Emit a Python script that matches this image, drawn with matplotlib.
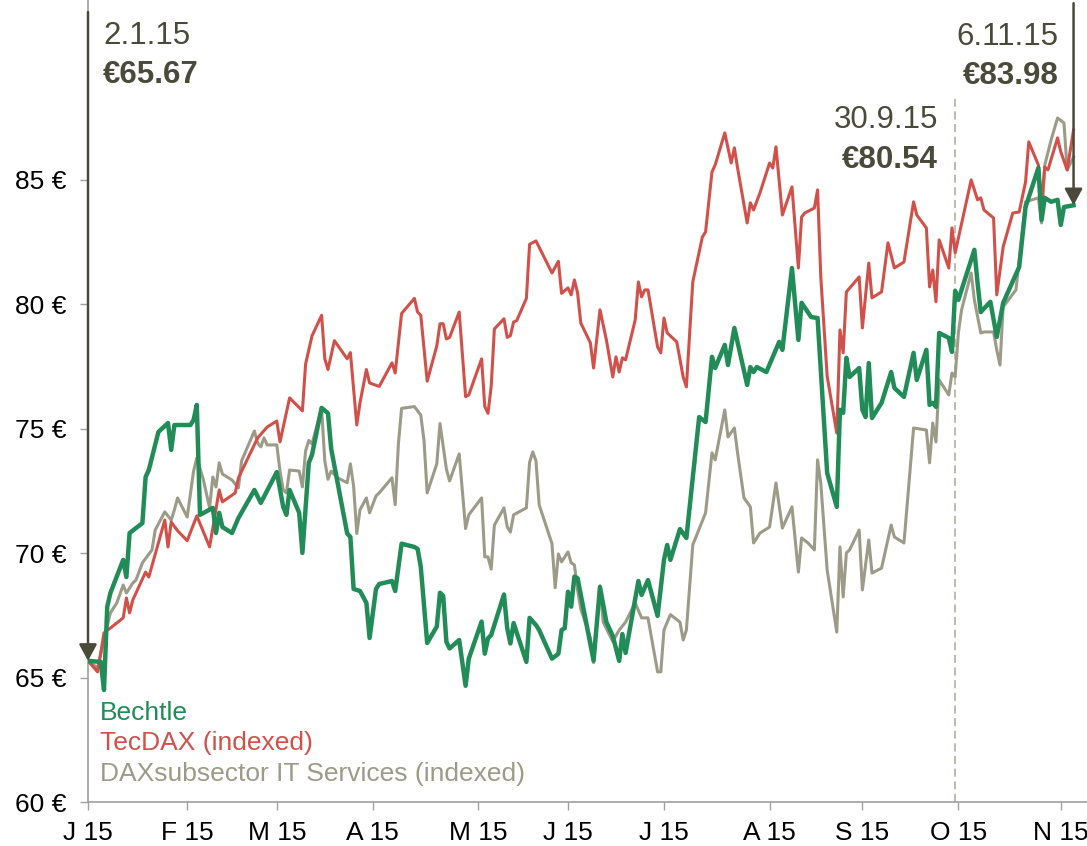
import pandas as pd
import matplotlib
matplotlib.use("Agg")
import matplotlib.pyplot as plt

plt.rcParams["font.family"] = ["Liberation Sans", "DejaVu Sans"]

GREEN = "#218C57"
RED = "#D2504A"
GREY = "#9B9B88"
DARK = "#4A4A3A"
YEAR = "2015-"

# Bechtle share price (EUR)
bechtle_days = [
    "01-02", "01-06", "01-07", "01-08", "01-09", "01-13", "01-14", "01-15", "01-19", "01-20",
    "01-21", "01-24", "01-27", "01-28", "01-29",
    "02-03", "02-04", "02-05", "02-06", "02-10", "02-11", "02-12", "02-13", "02-16", "02-18",
    "02-23", "02-25",
    "03-02", "03-04", "03-05", "03-06", "03-09", "03-10", "03-12", "03-13", "03-16", "03-18",
    "03-19", "03-24", "03-25", "03-26", "03-28", "03-30", "03-31",
    "04-02", "04-03", "04-07", "04-08", "04-10", "04-14", "04-15", "04-16", "04-18", "04-21",
    "04-22", "04-23", "04-24", "04-25", "04-28", "04-30",
    "05-01", "05-05", "05-06", "05-07", "05-08", "05-12", "05-13", "05-14", "05-15", "05-19",
    "05-20", "05-22", "05-23", "05-27", "05-29", "05-30", "05-31",
    "06-01", "06-02", "06-03", "06-04", "06-09", "06-11", "06-13", "06-15", "06-17", "06-18",
    "06-19", "06-23", "06-24", "06-26", "06-29",
    "07-01", "07-02", "07-03", "07-06", "07-08", "07-12", "07-14", "07-16", "07-17", "07-20",
    "07-21", "07-23", "07-27", "07-28", "07-29", "07-30",
    "08-02", "08-04", "08-06", "08-07", "08-10", "08-12", "08-13", "08-16", "08-18", "08-21",
    "08-24", "08-25", "08-26", "08-27", "08-28", "08-31",
    "09-01", "09-02", "09-03", "09-04", "09-07", "09-10", "09-11", "09-14", "09-17", "09-18",
    "09-21", "09-22", "09-23", "09-24", "09-25", "09-28", "09-29", "09-30",
    "10-01", "10-06", "10-07", "10-08", "10-11", "10-13", "10-15", "10-20", "10-22", "10-26",
    "10-27", "10-28", "10-30",
    "11-01", "11-02", "11-03", "11-06",
]
bechtle_vals = [
    65.67, 65.63, 64.50, 67.84, 68.40, 69.73, 69.04, 70.81, 71.21, 73.06,
    73.34, 74.87, 75.23, 74.15, 75.15,
    75.15, 75.35, 75.96, 71.54, 71.82, 70.81, 71.62, 71.05, 70.81, 71.41,
    72.54, 72.02,
    73.26, 71.86, 71.54, 72.54, 71.62, 70.01, 73.63, 73.95, 75.84, 75.62,
    74.19, 70.79, 70.65, 68.56, 68.48, 68.00, 66.59,
    68.56, 68.76, 68.88, 68.48, 70.38, 70.25, 70.17, 69.45, 66.39, 67.05,
    68.41, 68.28, 66.44, 66.17, 66.51, 64.67,
    65.76, 67.25, 65.96, 66.58, 66.71, 68.34, 66.99, 66.37, 67.19, 65.63,
    67.40, 67.11, 66.91, 65.76, 65.96, 66.91, 66.99,
    68.45, 67.85, 69.06, 68.99, 65.68, 68.64, 67.23, 66.67, 65.67, 66.75,
    65.99, 68.88, 68.32, 68.92, 67.48,
    69.73, 70.33, 69.73, 70.97, 70.61, 75.47, 75.27, 77.89, 77.44, 78.37,
    77.56, 79.05, 76.76, 77.48, 77.28, 77.48,
    77.28, 77.89, 78.49, 78.17, 81.46, 78.57, 80.06, 79.49, 79.45, 73.22,
    71.86, 75.76, 75.64, 77.85, 77.08, 77.44,
    75.76, 75.47, 77.64, 75.43, 76.04, 77.28, 76.64, 76.28, 78.05, 76.96,
    78.17, 75.96, 76.04, 75.88, 78.85, 78.65, 78.09, 80.54,
    80.18, 82.19, 80.86, 79.69, 80.10, 78.69, 80.06, 81.50, 83.91, 85.48,
    83.39, 84.28, 84.12,
    84.20, 83.19, 83.91, 83.98,
]

# TecDAX, indexed to the Bechtle start price
tecdax_days = [
    "01-02", "01-05", "01-07", "01-09", "01-13", "01-14", "01-15", "01-16", "01-20", "01-21",
    "01-24", "01-26", "01-27", "01-28", "01-30",
    "02-02", "02-05", "02-09", "02-12", "02-13", "02-17", "02-18", "02-21", "02-24", "02-27",
    "03-02", "03-03", "03-06", "03-10", "03-11", "03-13", "03-16", "03-17", "03-18", "03-20",
    "03-24", "03-25", "03-27", "03-28", "03-30", "03-31",
    "04-03", "04-07", "04-08", "04-10", "04-14", "04-15", "04-16", "04-18", "04-21", "04-22",
    "04-23", "04-24", "04-25", "04-28", "04-30",
    "05-01", "05-05", "05-06", "05-07", "05-08", "05-09", "05-12", "05-13", "05-14", "05-15",
    "05-16", "05-19", "05-20", "05-22", "05-27", "05-29", "05-30",
    "06-01", "06-02", "06-03", "06-04", "06-05", "06-08", "06-09", "06-11", "06-13", "06-15",
    "06-16", "06-17", "06-18", "06-19", "06-22", "06-23", "06-24", "06-25", "06-26", "06-29",
    "06-30",
    "07-01", "07-02", "07-05", "07-07", "07-08", "07-10", "07-13", "07-14", "07-16", "07-17",
    "07-20", "07-22", "07-23", "07-24", "07-27", "07-28", "07-29", "07-31",
    "08-03", "08-04", "08-05", "08-07", "08-10", "08-12", "08-13", "08-14", "08-17", "08-18",
    "08-19", "08-21", "08-24", "08-25", "08-26", "08-27", "08-31",
    "09-01", "09-03", "09-04", "09-07", "09-09", "09-11", "09-14", "09-17", "09-18", "09-21",
    "09-22", "09-23", "09-24", "09-25", "09-28", "09-29", "09-30",
    "10-05", "10-07", "10-08", "10-09", "10-12", "10-13", "10-15", "10-18", "10-20", "10-22",
    "10-23", "10-26", "10-27", "10-28", "10-29",
    "11-01", "11-02", "11-04", "11-06",
]
tecdax_vals = [
    65.67, 65.23, 66.80, 66.99, 67.40, 68.20, 67.60, 68.12, 69.24, 69.04,
    70.41, 71.33, 70.25, 71.25, 70.90,
    70.50, 71.50, 70.25, 72.54, 72.06, 72.42, 73.02, 73.83, 74.63, 75.07,
    75.31, 74.47, 76.24, 75.72, 77.60, 78.73, 79.56, 77.81, 77.38, 78.54,
    77.81, 78.06, 75.15, 76.04, 77.38, 76.84,
    76.70, 77.65, 77.24, 79.63, 80.24, 79.69, 79.56, 76.91, 78.33, 79.22,
    79.22, 78.61, 78.67, 79.69, 76.29,
    76.36, 77.81, 75.89, 75.62, 76.70, 79.01, 79.42, 78.67, 78.74, 79.29,
    79.35, 80.24, 82.41, 82.55, 81.26, 81.73, 80.44,
    80.66, 80.38, 80.98, 80.46, 79.25, 78.45, 77.44, 79.78, 78.57, 77.08,
    77.89, 77.28, 77.85, 77.77, 79.37, 80.90, 80.30, 80.58, 80.58, 78.29,
    78.05,
    79.45, 78.85, 78.49, 77.08, 76.68, 80.90, 82.71, 82.91, 85.32, 85.60,
    86.89, 85.68, 86.29, 85.48, 83.27, 84.08, 83.79, 84.48,
    85.68, 85.48, 86.33, 83.59, 84.72, 81.46, 83.51, 83.67, 83.87, 84.60,
    81.11, 77.11, 74.83, 78.97, 78.05, 80.50, 81.10,
    79.05, 81.66, 80.26, 80.50, 82.47, 81.46, 81.70, 84.12, 83.59, 83.07,
    80.70, 81.38, 80.10, 82.59, 81.46, 83.07, 82.07,
    85.00, 84.20, 84.28, 83.79, 83.47, 80.38, 82.31, 83.67, 83.71, 84.92,
    86.53, 85.60, 84.08, 85.52, 85.40,
    86.69, 86.13, 85.40, 87.01,
]

# DAXsubsector IT Services, indexed to the Bechtle start price
itserv_days = [
    "01-02", "01-05", "01-07", "01-09", "01-11", "01-13", "01-14", "01-16", "01-17", "01-19",
    "01-22", "01-23", "01-26", "01-28", "01-29", "01-30",
    "02-02", "02-04", "02-05", "02-07", "02-09", "02-10", "02-11", "02-12", "02-13", "02-16",
    "02-18", "02-19", "02-23", "02-24", "02-25", "02-26", "02-27",
    "03-02", "03-03", "03-04", "03-05", "03-06", "03-09", "03-10", "03-11", "03-12", "03-13",
    "03-16", "03-17", "03-18", "03-19", "03-21", "03-24", "03-25", "03-26", "03-27", "03-28",
    "03-30", "03-31",
    "04-02", "04-03", "04-07", "04-08", "04-09", "04-10", "04-14", "04-16", "04-17", "04-18",
    "04-21", "04-22", "04-24", "04-25", "04-28", "04-30",
    "05-01", "05-05", "05-06", "05-07", "05-08", "05-09", "05-12", "05-13", "05-14", "05-15",
    "05-19", "05-20", "05-21", "05-22", "05-23", "05-27", "05-28", "05-29", "05-30",
    "06-01", "06-02", "06-03", "06-04", "06-05", "06-08", "06-09", "06-11", "06-12", "06-15",
    "06-17", "06-19", "06-22", "06-24", "06-26", "06-29", "06-30",
    "07-01", "07-03", "07-06", "07-07", "07-08", "07-10", "07-14", "07-16", "07-17", "07-20",
    "07-21", "07-23", "07-24", "07-26", "07-28", "07-29", "07-31",
    "08-03", "08-05", "08-07", "08-10", "08-12", "08-13", "08-15", "08-17", "08-18", "08-19",
    "08-21", "08-24", "08-25", "08-26", "08-27", "08-28", "08-31",
    "09-01", "09-03", "09-04", "09-07", "09-10", "09-11", "09-14", "09-17", "09-21", "09-22",
    "09-23", "09-24", "09-25", "09-28", "09-29", "09-30",
    "10-01", "10-02", "10-05", "10-06", "10-08", "10-09", "10-12", "10-13", "10-14", "10-15",
    "10-19", "10-22", "10-26", "10-27", "10-28", "10-30",
    "11-01", "11-03", "11-04", "11-06",
]
itserv_vals = [
    65.67, 65.39, 66.51, 67.60, 68.00, 68.72, 68.40, 68.80, 68.92, 69.61,
    70.13, 70.93, 71.66, 71.33, 71.74, 72.22,
    71.45, 73.30, 73.83, 72.98, 71.82, 73.06, 72.66, 73.63, 73.18, 72.94,
    72.62, 73.71, 74.91, 74.43, 74.27, 74.63, 74.35,
    74.35, 73.30, 72.54, 72.42, 73.34, 73.30, 72.66, 74.11, 74.53, 74.39,
    75.82, 73.71, 72.97, 73.30, 73.03, 72.83, 73.59, 72.70, 70.79, 71.74,
    72.22, 71.62,
    72.30, 72.42, 73.03, 71.95, 74.39, 75.82, 75.89, 75.55, 74.53, 72.42,
    73.59, 75.21, 73.38, 72.90, 73.99, 70.99,
    71.54, 72.22, 69.85, 69.85, 69.36, 71.13, 71.82, 71.06, 70.85, 71.54,
    71.82, 73.65, 74.07, 73.71, 71.94, 70.38, 68.61, 69.97, 69.65,
    70.05, 69.61, 69.53, 68.52, 67.76, 66.59, 65.60, 68.69, 67.23, 66.45,
    66.91, 67.23, 68.00, 67.40, 67.40, 65.23, 65.23,
    66.91, 67.53, 67.23, 66.51, 66.91, 70.33, 71.62, 74.03, 73.75, 75.76,
    74.67, 75.03, 74.03, 72.22, 71.86, 70.41, 70.81,
    71.05, 72.82, 71.01, 71.86, 69.24, 70.61, 70.41, 70.13, 73.75, 72.82,
    69.32, 66.83, 70.25, 68.24, 70.01, 70.13, 70.93,
    68.52, 70.53, 69.20, 69.40, 71.13, 70.65, 70.41, 75.03, 74.95, 73.63,
    75.23, 74.47, 76.96, 76.36, 77.24, 77.08,
    78.85, 79.78, 81.26, 80.18, 78.85, 78.89, 78.89, 78.17, 77.56, 79.90,
    80.58, 84.12, 84.28, 83.27, 85.60, 86.61,
    87.49, 87.29, 85.40, 85.92,
]

# first trading day of each month is where the axis puts its ticks
tick_days = ["01-02", "02-02", "03-02", "04-01", "05-04", "06-01",
             "07-01", "08-03", "09-01", "10-01", "11-02"]
tick_labels = ["J 15", "F 15", "M 15", "A 15", "M 15", "J 15",
               "J 15", "A 15", "S 15", "O 15", "N 15"]
y_ticks = [60, 65, 70, 75, 80, 85]

# highlighted points: (day, label date, value)
start_day, start_label, start_val = "01-02", "2.1.15", 65.67
mid_day, mid_label, mid_val = "09-30", "30.9.15", 80.54
end_day, end_label, end_val = "11-06", "6.11.15", 83.98


def series(days, vals):
    return pd.Series(vals, index=pd.to_datetime([YEAR + d for d in days]))


bechtle = series(bechtle_days, bechtle_vals)
tecdax = series(tecdax_days, tecdax_vals)
itserv = series(itserv_days, itserv_vals)

fig = plt.figure(figsize=(10.87, 8.46), dpi=100)
ax = fig.add_axes([88 / 1087, 44 / 846, 999 / 1087, 802 / 846])

l3, = ax.plot(itserv.index, itserv.values, color=GREY, lw=2.2, zorder=2,
              label="DAXsubsector IT Services (indexed)")
l2, = ax.plot(tecdax.index, tecdax.values, color=RED, lw=2.2, zorder=3,
              label="TecDAX (indexed)")
l1, = ax.plot(bechtle.index, bechtle.values, color=GREEN, lw=3.2, zorder=4,
              label="Bechtle")

x0 = pd.Timestamp(YEAR + "01-02")
ax.set_xlim(x0, x0 + pd.Timedelta(days=312.2))
ax.set_ylim(60, 92.23)

ax.set_xticks(pd.to_datetime([YEAR + d for d in tick_days]))
ax.set_xticklabels(tick_labels)
ax.set_yticks(y_ticks)
ax.set_yticklabels(["%d €" % v for v in y_ticks])
ax.tick_params(axis="both", length=5.5, width=1, color="#A0A0A0",
               labelsize=19, labelcolor="black")
ax.tick_params(axis="x", pad=8)
ax.tick_params(axis="y", pad=10)
for s in ["top", "right"]:
    ax.spines[s].set_visible(False)
for s in ["left", "bottom"]:
    ax.spines[s].set_color("#A0A0A0")
    ax.spines[s].set_linewidth(1.2)

leg = ax.legend(handles=[l1, l2, l3], loc="lower left",
                bbox_to_anchor=(0.012, 0.02), frameon=False, fontsize=19,
                handlelength=0, handletextpad=0, borderpad=0, borderaxespad=0,
                labelspacing=0.25, labelcolor="linecolor")
for h in leg.legend_handles:
    h.set_visible(False)

# vertical marker at 30.9.15
mid_x = pd.Timestamp(YEAR + mid_day)
ax.axvline(mid_x, ymin=0, ymax=(802 - 98) / 802, color="#B8B8A8", lw=1.3,
           ls=(0, (4.5, 2.5)), zorder=1)

arrow = dict(arrowstyle="-|>,head_length=0.5,head_width=0.27", color=DARK,
             lw=1.8, mutation_scale=20, shrinkA=0, shrinkB=0)
start_x = pd.Timestamp(YEAR + start_day)
end_x = pd.Timestamp(YEAR + end_day)
ax.annotate("", xy=(start_x, start_val), xytext=(start_x, 0.985),
            textcoords=("data", "axes fraction"), arrowprops=arrow,
            zorder=6, annotation_clip=False)
ax.annotate("", xy=(end_x, end_val), xytext=(end_x, 0.996),
            textcoords=("data", "axes fraction"), arrowprops=arrow,
            zorder=6, annotation_clip=False)


def label(x, date_txt, val, dx, top, ha):
    ax.annotate(date_txt, xy=(x, 1.0), xycoords=("data", "axes fraction"),
                xytext=(dx, -top * 0.72), textcoords="offset points",
                ha=ha, va="baseline", fontsize=22.5, color=DARK)
    ax.annotate("€%.2f" % val, xy=(x, 1.0), xycoords=("data", "axes fraction"),
                xytext=(dx, -(top + 39.5) * 0.72), textcoords="offset points",
                ha=ha, va="baseline", fontsize=22.5, color=DARK,
                fontweight="bold")


label(start_x, start_label, start_val, 10.8, 43.5, "left")
label(end_x, end_label, end_val, -10.8, 45, "right")
label(mid_x, mid_label, mid_val, -12.5, 128, "right")

fig.savefig("out.png", dpi=100)
